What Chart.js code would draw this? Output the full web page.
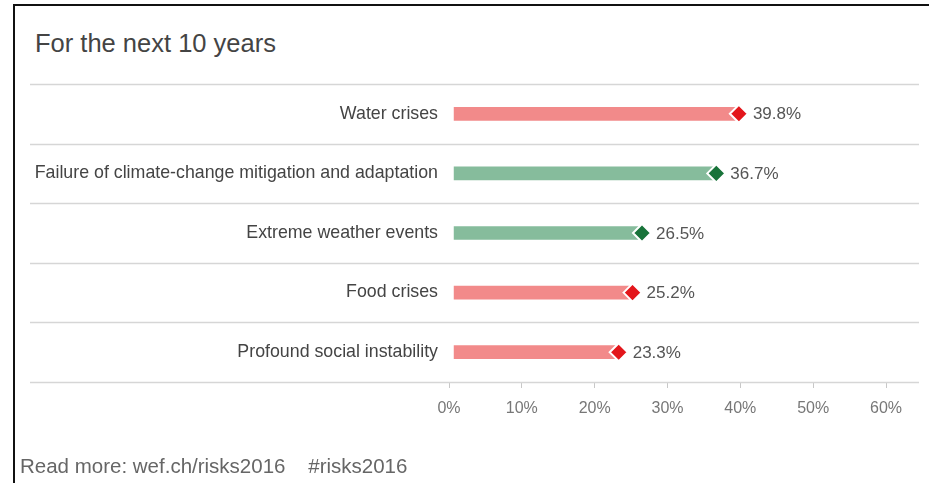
<!DOCTYPE html>
<html>
<head>
<meta charset="utf-8">
<script src="https://cdn.jsdelivr.net/npm/chart.js@4.4.1/dist/chart.umd.min.js"></script>
<style>
  html, body { margin: 0; padding: 0; background: #fff; }
  #wrap { position: relative; width: 929px; height: 483px; overflow: hidden; font-family: "Liberation Sans", Arial, sans-serif; }
  #frame { position: absolute; left: 13px; top: 4px; right: 0; bottom: -10px; border-left: 2px solid #111; border-top: 2px solid #111; }
  #title { position: absolute; left: 35px; top: 26px; font-size: 25.5px; line-height: 34px; color: #444; }
  #footer { position: absolute; left: 20px; top: 454px; font-size: 20.5px; line-height: 24px; color: #666; white-space: pre; }
  #chart { position: absolute; left: 0; top: 0; }
</style>
</head>
<body>
<div id="wrap">
  <div id="frame"></div>
  <div id="title">For the next 10 years</div>
  <canvas id="chart" width="929" height="483"></canvas>
  <div id="footer">Read more: wef.ch/risks2016    #risks2016</div>
</div>
<script>
const categories = [
    'Water crises',
    'Failure of climate-change mitigation and adaptation',
    'Extreme weather events',
    'Food crises',
    'Profound social instability'
];
const values = [39.8, 36.7, 26.5, 25.2, 23.3];
const riskType = ['societal', 'environmental', 'environmental', 'societal', 'societal'];
const xTickValues = [0, 10, 20, 30, 40, 50, 60];

const barColors = { societal: '#f28a8a', environmental: '#86bc9c' };
const markColors = { societal: '#e3161b', environmental: '#18733a' };

// separator lines between rows, drawn wider than the chart area
const rowLines = {
    id: 'rowLines',
    beforeDatasetsDraw(chart) {
        const y = chart.scales.y;
        const ctx = chart.ctx;
        const step = y.getPixelForValue(1) - y.getPixelForValue(0);
        ctx.save();
        ctx.strokeStyle = '#d6d6d6';
        ctx.lineWidth = 1.5;
        for (let i = 0; i <= categories.length; i++) {
            const py = Math.round(y.getPixelForValue(0) - step / 2 + i * step) + 0.5;
            ctx.beginPath();
            ctx.moveTo(30, py);
            ctx.lineTo(919, py);
            ctx.stroke();
        }
        ctx.restore();
    }
};

// value text next to each diamond
const valueLabels = {
    id: 'valueLabels',
    afterDatasetsDraw(chart) {
        const meta = chart.getDatasetMeta(1);
        const ctx = chart.ctx;
        ctx.save();
        ctx.font = '17px "Liberation Sans", Arial, sans-serif';
        ctx.fillStyle = '#555';
        ctx.textBaseline = 'middle';
        meta.data.forEach((pt, i) => {
            ctx.fillText(values[i].toFixed(1) + '%', pt.x + 14, pt.y + 1);
        });
        ctx.restore();
    }
};

new Chart(document.getElementById('chart'), {
    type: 'bar',
    data: {
        labels: categories,
        datasets: [
            {
                order: 2,
                data: values,
                base: 0.7,
                backgroundColor: riskType.map(t => barColors[t]),
                barThickness: 13,
                borderWidth: 0
            },
            {
                order: 1,
                type: 'line',
                indexAxis: 'y',
                data: values,
                showLine: false,
                clip: false,
                pointStyle: 'rectRot',
                pointRadius: 9,
                pointHoverRadius: 9,
                pointBackgroundColor: riskType.map(t => markColors[t]),
                pointBorderColor: '#fff',
                pointBorderWidth: 2
            }
        ]
    },
    options: {
        indexAxis: 'y',
        responsive: false,
        animation: false,
        layout: { padding: { top: 84, right: 43, bottom: 61, left: 0 } },
        plugins: {
            legend: { display: false },
            tooltip: { enabled: false }
        },
        scales: {
            x: {
                min: 0,
                max: 60,
                afterBuildTicks: (scale) => { scale.ticks = xTickValues.map(v => ({ value: v })); },
                afterFit: (scale) => { scale.height = 40; },
                grid: { drawOnChartArea: false, drawTicks: true, tickLength: 6, color: '#c8c8c8' },
                border: { display: false },
                ticks: {
                    padding: 11,
                    color: '#777',
                    font: { family: '"Liberation Sans", Arial, sans-serif', size: 16 },
                    callback: (v) => v + '%'
                }
            },
            y: {
                afterFit: (scale) => { scale.width = 449; },
                grid: { display: false },
                border: { display: false },
                ticks: {
                    padding: 3,
                    color: '#444',
                    font: { family: '"Liberation Sans", Arial, sans-serif', size: 17.8 }
                }
            }
        }
    },
    plugins: [rowLines, valueLabels]
});
</script>
</body>
</html>
